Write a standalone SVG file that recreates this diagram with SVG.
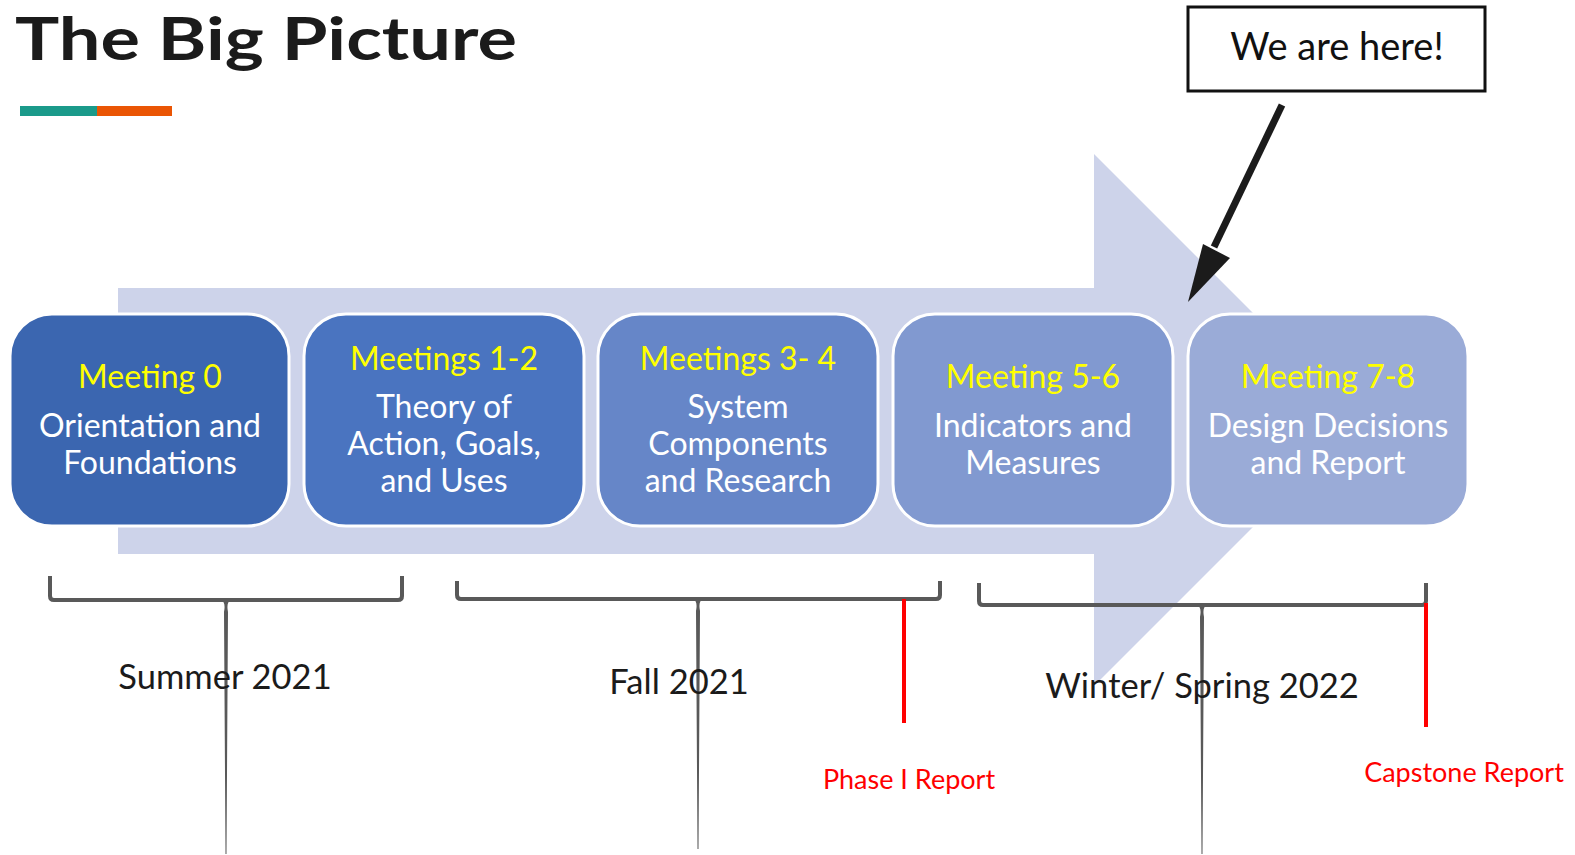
<svg xmlns="http://www.w3.org/2000/svg" width="1575" height="855" viewBox="0 0 1575 855">
<defs>
<style>
.title{font-family:Lato,"Liberation Sans",sans-serif;font-weight:700;font-size:60px;fill:#1b1b1b}
.box{stroke:#ffffff;stroke-width:3}
.hd{font-family:Lato,"Liberation Sans",sans-serif;font-size:32px;fill:#ffff00;text-anchor:middle}
.bd{font-family:Lato,"Liberation Sans",sans-serif;font-size:32px;fill:#ffffff;text-anchor:middle}
.brk{fill:none;stroke:#595959;stroke-width:4;stroke-linejoin:round}
.stem{fill:#595959}
.season{font-family:Lato,"Liberation Sans",sans-serif;font-size:34.5px;fill:#1b1b1b;text-anchor:middle}
.red{stroke:#ff0000;stroke-width:4}
.rtxt{font-family:Lato,"Liberation Sans",sans-serif;font-size:27px;fill:#ff0000;text-anchor:middle}
</style>
</defs>
<rect width="1575" height="855" fill="#ffffff"/>
<text class="title" x="15" y="60" textLength="502" lengthAdjust="spacingAndGlyphs">The Big Picture</text>
<rect x="20" y="106" width="77" height="10" fill="#1a9a8a"/>
<rect x="97" y="106" width="75" height="10" fill="#ea5504"/>

<g id="big-arrow">
<polygon points="118,288 1094,288 1094,154 1360,420 1094,686 1094,554 118,554" fill="#cdd3ea"/>
</g>

<g id="node-meeting0">
<rect class="box" x="10" y="314" width="279" height="212" rx="42" fill="#3b66b0"/>
<text class="hd" x="150" y="388">Meeting 0</text>
<text class="bd" x="150" y="437">Orientation and</text>
<text class="bd" x="150" y="474">Foundations</text>
</g>
<g id="node-meetings12">
<rect class="box" x="304" y="314" width="280" height="212" rx="42" fill="#4a74c0"/>
<text class="hd" x="444" y="370">Meetings 1-2</text>
<text class="bd" x="444" y="418">Theory of</text>
<text class="bd" x="444" y="455">Action, Goals,</text>
<text class="bd" x="444" y="492">and Uses</text>
</g>
<g id="node-meetings34">
<rect class="box" x="598" y="314" width="280" height="212" rx="42" fill="#6686c8"/>
<text class="hd" x="738" y="370">Meetings 3- 4</text>
<text class="bd" x="738" y="418">System</text>
<text class="bd" x="738" y="455">Components</text>
<text class="bd" x="738" y="492">and Research</text>
</g>
<g id="node-meeting56">
<rect class="box" x="893" y="314" width="280" height="212" rx="42" fill="#8199d0"/>
<text class="hd" x="1033" y="388">Meeting 5-6</text>
<text class="bd" x="1033" y="437">Indicators and</text>
<text class="bd" x="1033" y="474">Measures</text>
</g>
<g id="node-meeting78">
<rect class="box" x="1188" y="314" width="280" height="212" rx="42" fill="#9aabd7"/>
<text class="hd" x="1328" y="388">Meeting 7-8</text>
<text class="bd" x="1328" y="437">Design Decisions</text>
<text class="bd" x="1328" y="474">and Report</text>
</g>

<g id="node-we-are-here">
<rect x="1188" y="7" width="297" height="84" fill="#ffffff" stroke="#111111" stroke-width="3"/>
<text x="1337" y="60" font-family="Lato,'Liberation Sans',sans-serif" font-size="38" fill="#111111" text-anchor="middle">We are here!</text>
</g>

<g id="connectors">
<line x1="1282" y1="105" x2="1214" y2="247" stroke="#1b1b1b" stroke-width="7"/>
<polygon points="1188,302 1203,244 1230,258" fill="#1b1b1b"/>

<path class="brk" d="M50,576 V596 Q50,600 54,600 H398 Q402,600 402,596 V576"/>
<path class="stem" d="M221,600 Q226,602 224,612 L225.5,854 L226.5,854 L228,612 Q226,602 231,600 Z"/>
<path class="brk" d="M457,581 V595 Q457,599 461,599 H936 Q940,599 940,595 V581"/>
<path class="stem" d="M693,599 Q698,601 696,611 L697.5,849 L698.5,849 L700,611 Q698,601 703,599 Z"/>
<path class="brk" d="M979,583 V601 Q979,605 983,605 H1422 Q1426,605 1426,601 V583"/>
<path class="stem" d="M1197,605 Q1202,607 1200,617 L1201.5,854 L1202.5,854 L1204,617 Q1202,607 1207,605 Z"/>
<line class="red" x1="904" y1="599" x2="904" y2="723"/>
<line class="red" x1="1426" y1="603" x2="1426" y2="727"/>
</g>

<text class="season" x="225" y="689">Summer 2021</text>
<text class="season" x="679" y="694">Fall 2021</text>
<text class="season" x="1202" y="698">Winter/ Spring 2022</text>
<text class="rtxt" x="909" y="789">Phase I Report</text>
<text class="rtxt" x="1464" y="782">Capstone Report</text>
</svg>
